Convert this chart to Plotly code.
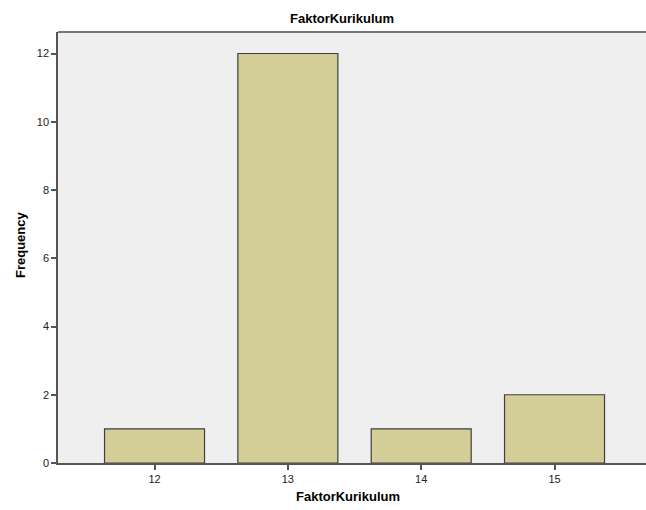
import plotly.graph_objects as go

categories = ["12", "13", "14", "15"]
frequency = [1, 12, 1, 2]
y_ticks = [0, 2, 4, 6, 8, 10, 12]

xpos = list(range(len(categories)))

W, H = 646, 510
L, T, B = 58, 32, 47
px_per_cat = 133.33
x0 = -0.724
x1 = x0 + (W - L) / px_per_cat
ph = H - T - B

fig = go.Figure()
fig.add_trace(go.Bar(
    x=xpos, y=frequency, width=0.75,
    marker=dict(color="#D3CE97", line=dict(color="#3F3F3F", width=1.2)),
))

fig.update_layout(
    width=W, height=H,
    margin=dict(l=L, r=0, t=T, b=B),
    paper_bgcolor="white",
    plot_bgcolor="#EFEFEF",
    showlegend=False,
    font=dict(family="Liberation Sans, Arial, sans-serif", size=11, color="#222222"),
    title=dict(text="<b>FaktorKurikulum</b>", x=342/W, xanchor="center",
               y=1 - 18/H, yanchor="middle",
               font=dict(size=13, color="#000000")),
    bargap=0.25,
)

fig.update_xaxes(
    range=[x0, x1],
    tickmode="array", tickvals=xpos, ticktext=categories,
    ticks="outside", ticklen=5, tickwidth=1.5, tickcolor="#555555",
    showline=True, linecolor="#555555", linewidth=1.5,
    showgrid=False, zeroline=False,
)
fig.update_yaxes(
    range=[0, 12.63],
    tickmode="array", tickvals=y_ticks,
    ticks="outside", ticklen=5, tickwidth=1.5, tickcolor="#555555",
    showline=True, linecolor="#555555", linewidth=1.5, mirror=False,
    showgrid=False, zeroline=False,
)

# axis titles
fig.add_annotation(text="<b>FaktorKurikulum</b>", xref="paper", yref="paper",
                   x=(348 - L) / (W - L), y=-(497 - 463) / ph,
                   xanchor="center", yanchor="middle", showarrow=False,
                   font=dict(size=13, color="#000000"))
fig.add_annotation(text="<b>Frequency</b>", xref="paper", yref="paper",
                   x=-(L - 20) / (W - L), y=(463 - 245) / ph,
                   xanchor="center", yanchor="middle", showarrow=False, textangle=-90,
                   font=dict(size=13, color="#000000"))

# top border line of plot area
fig.add_shape(type="line", xref="paper", yref="paper", x0=0, x1=1, y0=1, y1=1,
              line=dict(color="#777777", width=2))

fig.write_html("out.html",
               config={"displayModeBar": False},
               post_script="document.body.style.margin='0';document.body.style.overflow='hidden';")
